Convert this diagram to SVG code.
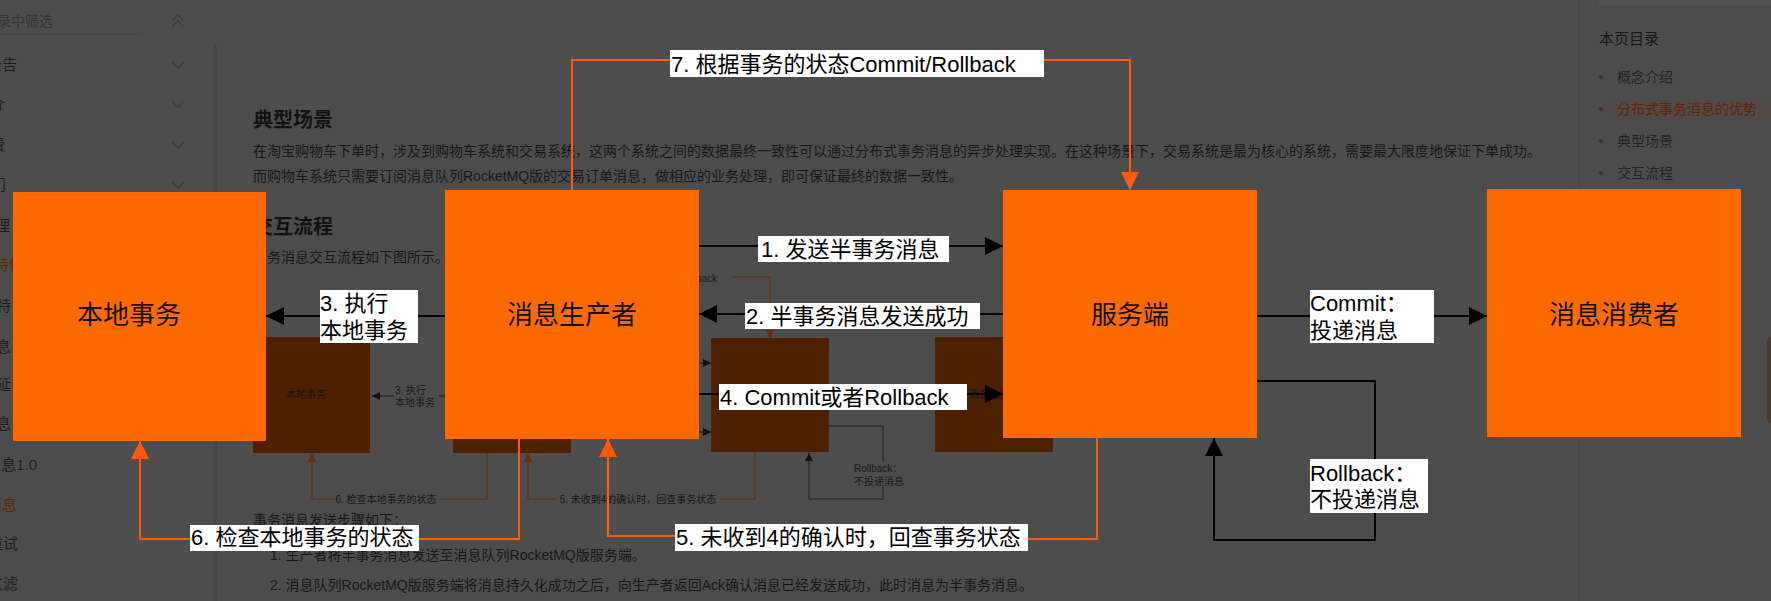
<svg xmlns="http://www.w3.org/2000/svg" width="1771" height="601" viewBox="0 0 1771 601">
<defs>
<style>
.pg{font-family:"Liberation Sans","Noto Sans CJK SC",sans-serif;fill:#161616;font-size:14px}
.h{font-size:20px;font-weight:bold;fill:#121212}
.sb{font-size:15px;fill:#1c1c1c}
.br{fill:#5e2608}
.sm{font-family:"Liberation Sans","Noto Sans CJK SC",sans-serif;font-size:10px;fill:#161616}
.chev{fill:none;stroke:#3e3e3e;stroke-width:1.5}
.sbox{fill:#4d2000}
.sl{fill:none;stroke:#1a1a1a;stroke-width:1}
.sbl{fill:none;stroke:#6a2a08;stroke-width:1}
.node{fill:#ff6a00}
.nt{font-family:"Liberation Sans","Noto Sans CJK SC",sans-serif;font-size:26px;fill:#111;text-anchor:middle}
.lk{fill:none;stroke:#000;stroke-width:2}
.lo{fill:none;stroke:#ff5a0a;stroke-width:2}
.lb{fill:#fff}
.lt{font-family:"Liberation Sans","Noto Sans CJK SC",sans-serif;font-size:22px;fill:#000}
</style>
<marker id="ak" viewBox="0 0 18 18" refX="18" refY="9" markerWidth="18" markerHeight="18" markerUnits="userSpaceOnUse" orient="auto"><path d="M0,0L18,9L0,18z" fill="#000"/></marker>
<marker id="ao" viewBox="0 0 18 18" refX="18" refY="9" markerWidth="18" markerHeight="18" markerUnits="userSpaceOnUse" orient="auto"><path d="M0,0L18,9L0,18z" fill="#ff5a0a"/></marker>
<marker id="sk" viewBox="0 0 8 8" refX="8" refY="4" markerWidth="8" markerHeight="8" markerUnits="userSpaceOnUse" orient="auto"><path d="M0,0L8,4L0,8z" fill="#111"/></marker>
<marker id="sbm" viewBox="0 0 8 8" refX="8" refY="4" markerWidth="8" markerHeight="8" markerUnits="userSpaceOnUse" orient="auto"><path d="M0,0L8,4L0,8z" fill="#6a2a08"/></marker>
</defs>

<g id="background">
<rect x="0" y="0" width="1771" height="601" fill="#4d4d4d"/>
<rect x="1599" y="0" width="172" height="5" fill="#525252"/>
<line x1="0" y1="34" x2="142" y2="34" stroke="#474747" stroke-width="1"/>
<rect x="214" y="45" width="3" height="556" fill="#464646"/>
<text class="pg" x="-3" y="26" style="fill:#333">录中筛选</text>
<path class="chev" d="M172,21L178,15L184,21M172,27L178,21L184,27"/>
<path class="chev" d="M172,62L178,68L184,62"/>
<path class="chev" d="M172,101L178,107L184,101"/>
<path class="chev" d="M172,142L178,148L184,142"/>
<path class="chev" d="M172,182L178,188L184,182"/>
<g class="pg sb">
<text x="17" y="70" text-anchor="end">公告</text>
<text x="5" y="110" text-anchor="end">介</text>
<text x="5" y="150" text-anchor="end">费</text>
<text x="6" y="190" text-anchor="end">门</text>
<text x="10" y="231" text-anchor="end">理</text>
<text x="-6" y="270" class="br">特性</text>
<text x="-4" y="311">特</text>
<text x="-4" y="352">息</text>
<text x="-4" y="390">延</text>
<text x="-4" y="429">息</text>
<text x="37" y="470" text-anchor="end">消息1.0</text>
<text x="17" y="510" text-anchor="end" class="br">消息</text>
<text x="18" y="549" text-anchor="end">重试</text>
<text x="18" y="589" text-anchor="end">过滤</text>
</g>
<text class="pg h" x="253" y="127">典型场景</text>
<text class="pg" x="253" y="156">在淘宝购物车下单时，涉及到购物车系统和交易系统，这两个系统之间的数据最终一致性可以通过分布式事务消息的异步处理实现。在这种场景下，交易系统是最为核心的系统，需要最大限度地保证下单成功。</text>
<text class="pg" x="253" y="181">而购物车系统只需要订阅消息队列RocketMQ版的交易订单消息，做相应的业务处理，即可保证最终的数据一致性。</text>
<text class="pg h" x="253" y="234">交互流程</text>
<text class="pg" x="253" y="262">事务消息交互流程如下图所示。</text>
<text class="pg" x="253" y="525">事务消息发送步骤如下：</text>
<text class="pg" x="270" y="560">1. 生产者将半事务消息发送至消息队列RocketMQ版服务端。</text>
<text class="pg" x="270" y="590">2. 消息队列RocketMQ版服务端将消息持久化成功之后，向生产者返回Ack确认消息已经发送成功，此时消息为半事务消息。</text>
<rect class="sbox" x="253" y="337" width="117" height="116"/>
<rect class="sbox" x="453" y="337" width="118" height="116"/>
<rect class="sbox" x="711" y="338" width="118" height="114"/>
<rect class="sbox" x="935" y="337" width="118" height="115"/>
<text class="sm" x="306" y="398" text-anchor="middle">本地事务</text>
<text class="sm" x="994" y="398" text-anchor="middle">消息消费者</text>
<path class="sl" d="M394,396H372" marker-end="url(#sk)"/>
<path class="sl" d="M445,396H439"/>
<text class="sm" x="395" y="394">3. 执行</text>
<text class="sm" x="395" y="406">本地事务</text>
<path class="sl" d="M699,363H711" marker-end="url(#sk)"/>
<path class="sl" d="M699,432H711" marker-end="url(#sk)"/>
<path class="sbl" d="M487,453V499H439M334,499H312V454" marker-end="url(#sbm)"/>
<text class="sm" x="386" y="503" text-anchor="middle">6. 检查本地事务的状态</text>
<path class="sbl" d="M755,452V499H720M557,499H528V454" marker-end="url(#sbm)"/>
<text class="sm" x="638" y="503" text-anchor="middle">5. 未收到4的确认时，回查事务状态</text>
<path class="sl" d="M829,426H883V461M883,487V499H809V453" marker-end="url(#sk)"/>
<text class="sm" x="854" y="472">Rollback：</text>
<text class="sm" x="854" y="485">不投递消息</text>
<path class="sbl" d="M731,277H770V338" marker-end="url(#sbm)"/>
<text class="sm" x="717" y="282" text-anchor="end">Rollback</text>
<line x1="1579" y1="0" x2="1579" y2="601" stroke="#464646" stroke-width="1"/>
<rect x="1613" y="99" width="158" height="22" fill="#514a46"/>
<text class="pg" x="1599" y="44" style="font-size:15px">本页目录</text>
<circle cx="1601" cy="77" r="2" fill="#333"/>
<circle cx="1601" cy="109" r="2" fill="#5e2608"/>
<circle cx="1601" cy="141" r="2" fill="#333"/>
<circle cx="1601" cy="173" r="2" fill="#333"/>
<text class="pg" x="1617" y="82" style="fill:#222">概念介绍</text>
<text class="pg br" x="1617" y="114">分布式事务消息的优势</text>
<text class="pg" x="1617" y="146" style="fill:#222">典型场景</text>
<text class="pg" x="1617" y="178" style="fill:#222">交互流程</text>
<rect x="1767" y="337" width="12" height="86" rx="5" fill="#4a3a30"/>
</g>

<g id="node-local">
<rect class="node" x="13" y="192" width="253" height="249"/>
<text class="nt" x="129" y="324">本地事务</text>
</g>
<g id="node-producer">
<rect class="node" x="445" y="190" width="254" height="249"/>
<text class="nt" x="572" y="324">消息生产者</text>
</g>
<g id="node-server">
<rect class="node" x="1003" y="190" width="254" height="248"/>
<text class="nt" x="1130" y="324">服务端</text>
</g>
<g id="node-consumer">
<rect class="node" x="1487" y="189" width="254" height="248"/>
<text class="nt" x="1614" y="324">消息消费者</text>
</g>

<g id="connectors">
<path class="lk" d="M699,246H1003" marker-end="url(#ak)"/>
<path class="lk" d="M1003,314H699" marker-end="url(#ak)"/>
<path class="lk" d="M445,316H266" marker-end="url(#ak)"/>
<path class="lk" d="M699,394H1003" marker-end="url(#ak)"/>
<path class="lk" d="M1257,316H1487" marker-end="url(#ak)"/>
<path class="lk" d="M1257,381H1375V540H1214V438" marker-end="url(#ak)"/>
<path class="lo" d="M1097,438V539H850V536H608V439" marker-end="url(#ao)"/>
<path class="lo" d="M519,439V539H140V441" marker-end="url(#ao)"/>
<path class="lo" d="M572,190V60H1130V190" marker-end="url(#ao)"/>
</g>

<g id="connector-labels">
<rect class="lb" x="670" y="50" width="374" height="27"/>
<text class="lt" x="671" y="72">7. 根据事务的状态Commit/Rollback</text>
<rect class="lb" x="758" y="236" width="191" height="26"/>
<text class="lt" x="761" y="257">1. 发送半事务消息</text>
<rect class="lb" x="745" y="303" width="235" height="26"/>
<text class="lt" x="746" y="324">2. 半事务消息发送成功</text>
<rect class="lb" x="320" y="290" width="98" height="53"/>
<text class="lt" x="320" y="311">3. 执行</text>
<text class="lt" x="320" y="338">本地事务</text>
<rect class="lb" x="719" y="384" width="248" height="26"/>
<text class="lt" x="720" y="405">4. Commit或者Rollback</text>
<rect class="lb" x="675" y="524" width="353" height="27"/>
<text class="lt" x="676" y="545">5. 未收到4的确认时，回查事务状态</text>
<rect class="lb" x="190" y="525" width="229" height="26"/>
<text class="lt" x="191" y="545">6. 检查本地事务的状态</text>
<rect class="lb" x="1310" y="290" width="124" height="53"/>
<text class="lt" x="1310" y="311">Commit：</text>
<text class="lt" x="1310" y="338">投递消息</text>
<rect class="lb" x="1310" y="459" width="118" height="54"/>
<text class="lt" x="1310" y="481">Rollback：</text>
<text class="lt" x="1310" y="507">不投递消息</text>
</g>
</svg>
